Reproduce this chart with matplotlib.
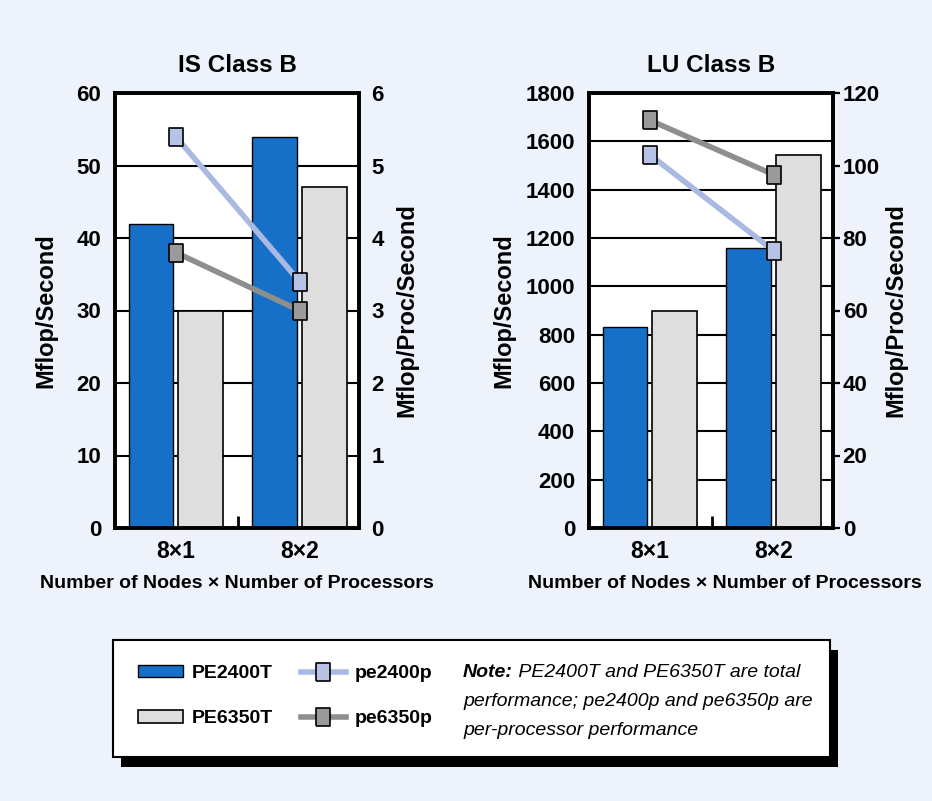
import matplotlib
matplotlib.use("Agg")
import matplotlib.pyplot as plt
from matplotlib.patches import Rectangle
from matplotlib.text import Annotation
import numpy as np

plt.rcParams['font.family'] = ['Liberation Sans', 'DejaVu Sans']

# data
categories = ['8\u00d71', '8\u00d72']
is_pe2400t = [42, 54]
is_pe6350t = [30, 47]
is_pe2400p = [5.4, 3.4]
is_pe6350p = [3.8, 3.0]
lu_pe2400t = [830, 1160]
lu_pe6350t = [900, 1545]
lu_pe2400p = [103, 76.5]
lu_pe6350p = [112.5, 97.5]

colors = {
    'blue': '#1770C8',
    'gray': '#DEDEDE',
    'line_blue': '#A9B9E1',
    'mark_blue': '#B6C2E6',
    'line_gray': '#8E8E8E',
    'mark_gray': '#9A9A9A',
    'bg': '#EEF2FB',
}

# slightly tall square marker, like the original
box_marker = [(-0.4, -0.5), (0.4, -0.5), (0.4, 0.5), (-0.4, 0.5), (-0.4, -0.5)]

W, H = 932, 801
fig = plt.figure(figsize=(W / 100, H / 100), dpi=100, facecolor=colors['bg'])

TICK_FS = 16


def make_panel(left_px, title, tot1, tot2, per1, per2, yticks, y2ticks,
               right_ticks, xlab_x, ylab_x, y2lab_x):
    ax = fig.add_axes([left_px / W, 1 - 528 / H, 244 / W, 435 / H])
    ax.set_facecolor('white')
    x = np.arange(len(categories))
    b1 = ax.bar(x - 0.2, tot1, 0.36, color=colors['blue'], edgecolor='black',
                linewidth=1.0, label='PE2400T')
    b2 = ax.bar(x + 0.2, tot2, 0.36, color=colors['gray'], edgecolor='black',
                linewidth=1.2, label='PE6350T')
    ax.set_xlim(-0.49, 1.48)
    ax.set_ylim(yticks[0], yticks[-1])
    ax.set_yticks(yticks)
    ax.yaxis.grid(True, color='black', linewidth=1.5)
    ax.set_axisbelow(True)
    ax.set_xticks(x, categories)
    ax.set_xticks([0.5], minor=True)
    ax.tick_params(axis='x', which='major', length=0, pad=9, labelsize=16.5)
    ax.tick_params(axis='x', which='minor', direction='in', length=9, width=2)
    ax.tick_params(axis='y', length=0, pad=10, labelsize=TICK_FS)
    for lab in ax.get_xticklabels() + ax.get_yticklabels():
        lab.set_fontweight('bold')
    ax.set_title(title, fontsize=17.5, fontweight='bold', pad=15)
    ax.set_xlabel('Number of Nodes \u00d7 Number of Processors',
                  fontsize=14, fontweight='bold')
    ax.xaxis.set_label_coords(xlab_x, -0.108)
    ax.set_ylabel('Mflop/Second', fontsize=17, fontweight='bold')
    ax.yaxis.set_label_coords(ylab_x, 0.5)

    ax2 = ax.twinx()
    l1, = ax2.plot(x, per1, color=colors['line_blue'], linewidth=4,
                   marker=box_marker, markersize=12.5,
                   markerfacecolor=colors['mark_blue'],
                   markeredgecolor='black', markeredgewidth=1.2, label='pe2400p')
    l2, = ax2.plot(x, per2, color=colors['line_gray'], linewidth=4,
                   marker=box_marker, markersize=12.5,
                   markerfacecolor=colors['mark_gray'],
                   markeredgecolor='black', markeredgewidth=1.2, label='pe6350p')
    ax2.set_ylim(y2ticks[0], y2ticks[-1])
    ax2.set_yticks(y2ticks)
    if right_ticks:
        ax2.tick_params(axis='y', length=5, width=1.6, pad=2, labelsize=TICK_FS)
    else:
        ax2.tick_params(axis='y', length=0, pad=9, labelsize=TICK_FS)
    for lab in ax2.get_yticklabels():
        lab.set_fontweight('bold')
    ax2.set_ylabel('Mflop/Proc/Second', fontsize=17, fontweight='bold')
    ax2.yaxis.set_label_coords(y2lab_x, 0.5)

    for a in (ax, ax2):
        for sp in a.spines.values():
            sp.set_linewidth(2.6)
    return ax, [b1, b2, l1, l2]


ax_is, handles = make_panel(115, 'IS Class B', is_pe2400t, is_pe6350t,
                            is_pe2400p, is_pe6350p,
                            np.arange(0, 61, 10), np.arange(0, 7, 1),
                            False, 0.5, -0.235, 1.148)
ax_lu, _ = make_panel(589, 'LU Class B', lu_pe2400t, lu_pe6350t,
                      lu_pe2400p, lu_pe6350p,
                      np.arange(0, 1801, 200), np.arange(0, 121, 20),
                      True, 0.557, -0.30, 1.209)

# legend box with drop shadow
fig.patches.append(Rectangle((121 / W, 1 - 767 / H), 717 / W, 117 / H,
                             transform=fig.transFigure, facecolor='black',
                             edgecolor='none', zorder=1))
fig.patches.append(Rectangle((113 / W, 1 - 757 / H), 717 / W, 117 / H,
                             transform=fig.transFigure, facecolor='white',
                             edgecolor='black', linewidth=1.5, zorder=1.5))

leg = fig.legend(handles, [h.get_label() for h in handles], loc='upper left',
                 bbox_to_anchor=(138 / W, 1 - 665 / H), bbox_transform=fig.transFigure,
                 ncol=2, frameon=False, borderpad=0, borderaxespad=0,
                 handlelength=2.3, handleheight=0.6, handletextpad=0.45,
                 columnspacing=1.45, labelspacing=1.45,
                 prop={'size': 14, 'weight': 'bold'})
leg.set_zorder(3)

# note text
note_x = 463 / W
NOTE_FS = 14
t1 = fig.text(note_x, 1 - 677 / H, 'Note:', fontsize=NOTE_FS, fontweight='bold',
              style='italic', va='baseline', zorder=3)
rest = Annotation(' PE2400T and PE6350T are total', xy=(1, 0), xycoords=t1,
                  va='bottom', ha='left', fontsize=NOTE_FS, style='italic',
                  annotation_clip=False, zorder=3)
fig.add_artist(rest)
fig.text(note_x, 1 - 706 / H, 'performance; pe2400p and pe6350p are',
         fontsize=NOTE_FS, style='italic', va='baseline', zorder=3)
fig.text(note_x, 1 - 735 / H, 'per-processor performance',
         fontsize=NOTE_FS, style='italic', va='baseline', zorder=3)

fig.savefig('out.png', dpi=100, facecolor=fig.get_facecolor())
